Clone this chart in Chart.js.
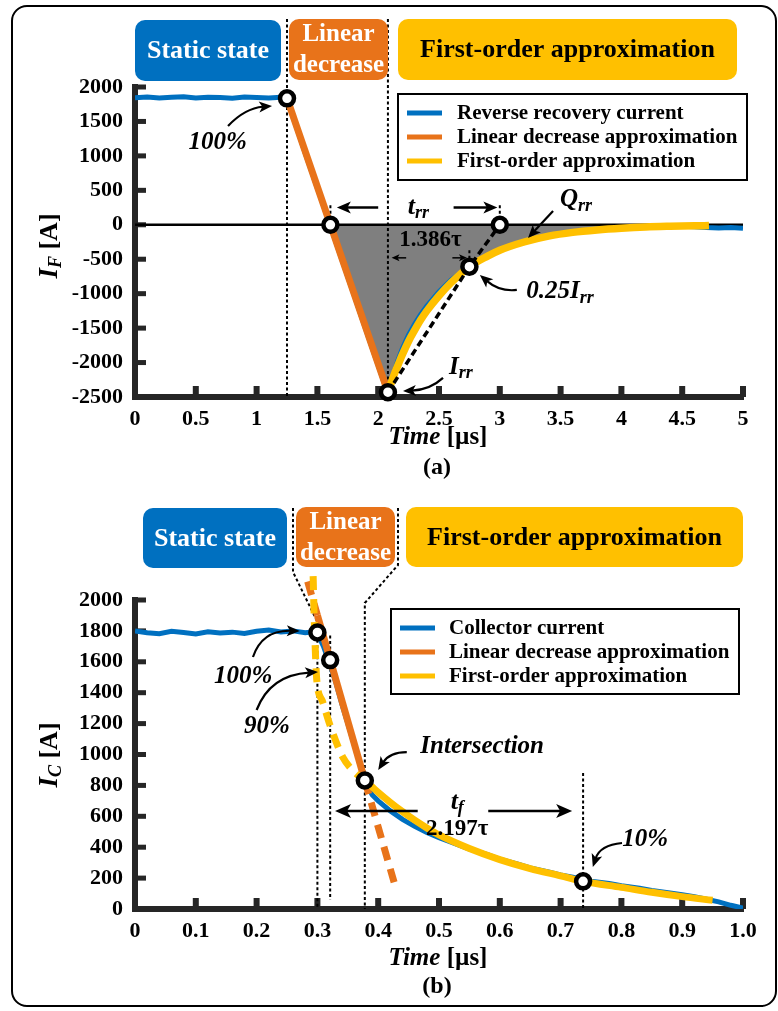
<!DOCTYPE html>
<html>
<head>
<meta charset="utf-8">
<script src="https://cdn.jsdelivr.net/npm/chart.js@4/dist/chart.umd.min.js"></script>
<style>
  html, body { margin: 0; padding: 0; background: #fff; }
  #page { position: relative; width: 778px; height: 1011px; overflow: hidden; background: #fff; }
  #frame { position: absolute; left: 11px; top: 5px; width: 766px; height: 1002px; box-sizing: border-box;
           border: 2px solid #000; border-radius: 16px; }
  canvas { position: absolute; left: 0; }
  #cA { top: 0; }
  #cB { top: 500px; }
</style>
</head>
<body>
<div id="page">
  <div id="frame"></div>
  <canvas id="cA" width="778" height="500"></canvas>
  <canvas id="cB" width="778" height="511"></canvas>
</div>
<script>
// ---------- (a) diode reverse recovery ----------
const rrTime = [0, 0.1, 0.2, 0.3, 0.4, 0.5, 0.6, 0.7, 0.8, 0.9, 1.0, 1.1, 1.2, 1.25,
  1.3, 1.4, 1.5, 1.6, 1.7, 1.8, 1.9, 2.0, 2.05, 2.08,
  2.1, 2.13, 2.16, 2.2, 2.25, 2.3, 2.35, 2.4,
  2.5, 2.6, 2.7, 2.8, 2.9, 3.0,
  3.2, 3.4, 3.6, 3.8, 4.0, 4.2, 4.4, 4.5, 4.6, 4.7, 4.8, 4.9, 5.0];
const rrCurrent = [1845, 1855, 1840, 1850, 1858, 1842, 1852, 1846, 1838, 1854, 1848, 1842, 1850, 1835,
  1560, 1040, 530, 20, -500, -1010, -1530, -2040, -2300, -2440,
  -2350, -2150, -1980, -1790, -1600, -1440, -1300, -1180,
  -970, -800, -670, -560, -450, -360,
  -245, -160, -105, -70, -45, -25, -15, -20, -30, -40, -45, -40, -50];

const linTimeA = [1.25, 2.08];
const linCurrentA = [1835, -2430];

const foTimeA = [2.08, 2.10, 2.13, 2.16, 2.20, 2.25, 2.30, 2.35, 2.40, 2.50, 2.60, 2.75, 2.90, 3.00,
  3.20, 3.40, 3.60, 3.80, 4.00, 4.20, 4.40, 4.60, 4.72];
const foCurrentA = [-2430, -2330, -2180, -2050, -1880, -1690, -1530, -1380, -1250, -1030, -840, -608, -455, -370,
  -250, -165, -110, -75, -50, -32, -22, -15, -12];

// 100 %, zero crossing, I_rr, 0.25 I_rr, end of t_rr
const markTimeA = [1.25, 1.607, 2.08, 2.75, 3.0];
const markCurrentA = [1835, 0, -2430, -608, 0];

const timeRangeA = [0, 5];
const xTicksA = ['0', '0.5', '1', '1.5', '2', '2.5', '3', '3.5', '4', '4.5', '5'];
const yTicksA = ['-2500', '-2000', '-1500', '-1000', '-500', '0', '500', '1000', '1500', '2000'];

// ---------- (b) IGBT turn-off ----------
const icTime = [0, 0.02, 0.04, 0.06, 0.08, 0.10, 0.12, 0.14, 0.16, 0.18, 0.20, 0.22, 0.24, 0.26, 0.28,
  0.29, 0.30, 0.31, 0.32, 0.33, 0.34, 0.35, 0.36, 0.37, 0.378,
  0.39, 0.40, 0.42, 0.44, 0.46, 0.48, 0.50, 0.52,
  0.55, 0.58, 0.60, 0.63, 0.65, 0.68, 0.70, 0.72, 0.75, 0.78, 0.80, 0.83, 0.85, 0.88, 0.90, 0.92, 0.94, 0.96, 0.98, 1.00];
const icCurrent = [1800, 1788, 1782, 1797, 1790, 1780, 1795, 1786, 1792, 1784, 1798, 1806, 1793, 1800, 1788,
  1792, 1780, 1700, 1590, 1470, 1330, 1200, 1070, 940, 832,
  740, 700, 635, 580, 535, 495, 462, 432,
  388, 352, 322, 290, 266, 240, 220, 206, 180, 165, 150, 134, 120, 104, 92, 80, 63, 46, 24, 6];

const linTimeB = [0.284, 0.30, 0.378, 0.43];
const linCurrentB = [2120, 1901, 832, 120];

const foTimeB = [0.293, 0.294, 0.296, 0.299, 0.308, 0.321, 0.342, 0.360, 0.378,
  0.39, 0.40, 0.42, 0.44, 0.46, 0.48, 0.50, 0.55, 0.60, 0.65, 0.70, 0.737, 0.80, 0.85, 0.90, 0.95];
const foCurrentB = [2155, 1994, 1735, 1480, 1348, 1187, 981, 890, 832,
  790, 755, 690, 630, 575, 525, 480, 392, 320, 262, 215, 179, 140, 108, 80, 56];

// 100 %, 90 %, intersection, 10 %
const markTimeB = [0.30, 0.321, 0.378, 0.737];
const markCurrentB = [1790, 1611, 832, 179];

const xTicksB = ['0', '0.1', '0.2', '0.3', '0.4', '0.5', '0.6', '0.7', '0.8', '0.9', '1.0'];
const yTicksB = ['0', '200', '400', '600', '800', '1000', '1200', '1400', '1600', '1800', '2000'];

// ---------- styling ----------
const SERIF = '"Liberation Serif", "Times New Roman", serif';
const AXIS = '#262626';
const BLUE = '#0070C0', ORANGE = '#E8731A', YELLOW = '#FFC000', GRAY = '#7F7F7F';

const pts = (xs, ys) => xs.map((x, i) => ({ x, y: ys[i] }));
const fontOf = p => `${p[2] ? 'italic ' : ''}bold ${p[1]}px ${SERIF}`;

function rich(ctx, parts, x, y) {
  let w = 0;
  for (const p of parts) { ctx.font = fontOf(p); w += ctx.measureText(p[0]).width; }
  let cx = x - w / 2;
  ctx.textAlign = 'left';
  ctx.textBaseline = 'middle';
  for (const p of parts) {
    ctx.font = fontOf(p);
    ctx.fillText(p[0], cx, y + (p[3] || 0));
    cx += ctx.measureText(p[0]).width;
  }
}

function toPx(chart, pt) {
  const X = typeof pt[0] === 'object' ? pt[0].p : chart.scales.x.getPixelForValue(pt[0]);
  const Y = typeof pt[1] === 'object' ? pt[1].p : chart.scales.y.getPixelForValue(pt[1]);
  return [X, Y];
}

function head(ctx, from, to, len, half) {
  const a = Math.atan2(to[1] - from[1], to[0] - from[0]);
  const c = Math.cos(a), s = Math.sin(a);
  ctx.beginPath();
  ctx.moveTo(to[0], to[1]);
  ctx.lineTo(to[0] - len * c + half * s, to[1] - len * s - half * c);
  ctx.lineTo(to[0] - len * 0.75 * c, to[1] - len * 0.75 * s);
  ctx.lineTo(to[0] - len * c - half * s, to[1] - len * s + half * c);
  ctx.closePath();
  ctx.fill();
}

function roundRect(ctx, x, y, w, h, r) {
  ctx.beginPath();
  ctx.moveTo(x + r, y);
  ctx.arcTo(x + w, y, x + w, y + h, r);
  ctx.arcTo(x + w, y + h, x, y + h, r);
  ctx.arcTo(x, y + h, x, y, r);
  ctx.arcTo(x, y, x + w, y, r);
  ctx.closePath();
}

function drawTicks(chart) {
  const { ctx, chartArea: a, scales: { x, y } } = chart;
  ctx.save();
  ctx.fillStyle = AXIS;
  x.ticks.forEach(t => {
    if (t.value === x.min) return;
    const px = x.getPixelForValue(t.value);
    ctx.fillRect(px - 3, a.bottom - 11, 6, 11);
  });
  y.ticks.forEach(t => {
    if (t.value === y.min) return;
    const py = y.getPixelForValue(t.value);
    ctx.fillRect(a.left, py - 2.5, 11, 5);
  });
  ctx.restore();
}

function drawGuides(chart, spec) {
  const ctx = chart.ctx;
  ctx.save();
  ctx.strokeStyle = '#000';
  ctx.lineWidth = 2;
  ctx.setLineDash([3, 2.5]);
  spec.guides.forEach(g => {
    ctx.beginPath();
    g.forEach((p, i) => { const [X, Y] = toPx(chart, p); i ? ctx.lineTo(X, Y) : ctx.moveTo(X, Y); });
    ctx.stroke();
  });
  ctx.restore();
}

function drawNotes(chart, spec) {
  const ctx = chart.ctx;
  ctx.save();
  ctx.setLineDash([]);
  ctx.strokeStyle = '#000';
  ctx.fillStyle = '#000';
  spec.arrows.forEach(a => {
    const f = toPx(chart, a.from), t = toPx(chart, a.to);
    const d = Math.hypot(t[0] - f[0], t[1] - f[1]);
    const k = (d - a.head[0] * 0.7) / d;
    ctx.lineWidth = a.w;
    ctx.beginPath();
    ctx.moveTo(f[0], f[1]);
    ctx.lineTo(f[0] + (t[0] - f[0]) * k, f[1] + (t[1] - f[1]) * k);
    ctx.stroke();
    head(ctx, f, t, a.head[0], a.head[1]);
  });
  spec.curves.forEach(c => {
    const f = toPx(chart, c.from), m = toPx(chart, c.ctrl), t = toPx(chart, c.to);
    const d = Math.hypot(t[0] - m[0], t[1] - m[1]);
    const k = 9 / d;
    ctx.lineWidth = 2.2;
    ctx.beginPath();
    ctx.moveTo(f[0], f[1]);
    ctx.quadraticCurveTo(m[0], m[1], t[0] - (t[0] - m[0]) * k, t[1] - (t[1] - m[1]) * k);
    ctx.stroke();
    head(ctx, m, t, 13, 5.5);
  });
  spec.labels.forEach(l => {
    const [X, Y] = toPx(chart, l.at);
    rich(ctx, l.parts, X, Y);
  });
  ctx.restore();
}

function drawFrameParts(chart, spec) {
  const ctx = chart.ctx;
  ctx.save();
  ctx.setLineDash([]);
  spec.banners.forEach(b => {
    ctx.fillStyle = b.fill;
    roundRect(ctx, b.x, b.y, b.w, b.h, 10);
    ctx.fill();
    ctx.fillStyle = b.color;
    const n = b.text.length;
    b.text.forEach((t, i) => rich(ctx, [[t, b.size, 0]], b.x + b.w / 2, b.y + b.h / 2 + 1 + (i - (n - 1) / 2) * 31));
  });
  const L = spec.legend;
  ctx.strokeStyle = '#000';
  ctx.lineWidth = 2;
  ctx.strokeRect(L.box[0], L.box[1], L.box[2], L.box[3]);
  L.items.forEach((di, k) => {
    const ds = chart.data.datasets[di];
    ctx.strokeStyle = ds.borderColor;
    ctx.lineWidth = 5;
    ctx.beginPath();
    ctx.moveTo(L.sample[0], L.rows[k]);
    ctx.lineTo(L.sample[1], L.rows[k]);
    ctx.stroke();
    ctx.fillStyle = '#000';
    ctx.font = `bold 21px ${SERIF}`;
    ctx.textAlign = 'left';
    ctx.textBaseline = 'middle';
    ctx.fillText(ds.label, L.textX, L.rows[k] + 1);
  });
  ctx.fillStyle = '#000';
  ctx.save();
  ctx.translate(spec.yTitle.x, spec.yTitle.y);
  ctx.rotate(-Math.PI / 2);
  rich(ctx, spec.yTitle.parts, 0, 0);
  ctx.restore();
  rich(ctx, spec.xTitle.parts, spec.xTitle.x, spec.xTitle.y);
  rich(ctx, [[spec.caption.text, 24, 0]], spec.caption.x, spec.caption.y);
  ctx.restore();
}

function makeDecor(spec) {
  return {
    id: 'decor',
    beforeDatasetsDraw(chart) {
      drawTicks(chart);
      if (spec.guidesAfter < 0) drawGuides(chart, spec);
    },
    afterDatasetDraw(chart, args) {
      if (args.index === spec.guidesAfter) drawGuides(chart, spec);
    },
    afterDatasetsDraw(chart) { drawNotes(chart, spec); },
    afterDraw(chart) { drawFrameParts(chart, spec); }
  };
}

function axes(xMin, xMax, xStep, xLabels, yMin, yMax, yStep, yLabels) {
  const tickFont = { family: SERIF, size: 22, weight: 'bold' };
  return {
    x: {
      type: 'linear', min: xMin, max: xMax,
      grid: { display: false, drawTicks: false },
      border: { display: true, width: 6, color: AXIS },
      ticks: { stepSize: xStep, autoSkip: false, maxRotation: 0, padding: 9, color: '#000', font: tickFont,
               callback: (v, i) => xLabels[i] },
      afterFit: s => { s.height = 50; }
    },
    y: {
      type: 'linear', min: yMin, max: yMax,
      grid: { display: false, drawTicks: false },
      border: { display: true, width: 6, color: AXIS },
      ticks: { stepSize: yStep, autoSkip: false, padding: 12, color: '#000', font: tickFont,
               callback: (v, i) => yLabels[i] },
      afterFit: s => { s.width = 70; }
    }
  };
}

const baseOptions = (padding, scales) => ({
  responsive: false,
  animation: false,
  devicePixelRatio: 1,
  events: [],
  layout: { padding },
  elements: { point: { radius: 0 }, line: { tension: 0 } },
  plugins: { legend: { display: false }, tooltip: { enabled: false } },
  scales
});

// ---------- chart (a) ----------
const specA = {
  guidesAfter: 0,
  banners: [
    { x: 135, y: 20, w: 146, h: 61, fill: BLUE, color: '#fff', size: 26, text: ['Static state'] },
    { x: 289, y: 19, w: 99, h: 61, fill: ORANGE, color: '#fff', size: 25, text: ['Linear', 'decrease'] },
    { x: 398, y: 19, w: 339, h: 61, fill: YELLOW, color: '#000', size: 26, text: ['First-order approximation'] }
  ],
  legend: { box: [398, 94, 349, 86], rows: [113, 137, 161], sample: [407, 442], textX: 457, items: [2, 3, 4] },
  guides: [
    [[markTimeA[0], { p: 19 }], [markTimeA[0], -2500]],
    [[markTimeA[2], { p: 19 }], [markTimeA[2], -2500]],
    [[markTimeA[1], 0], [markTimeA[1], 320]],
    [[markTimeA[4], 0], [markTimeA[4], 320]],
    [[markTimeA[3], -370], [markTimeA[3], -560]]
  ],
  arrows: [
    { from: [2.0, 250], to: [1.66, 250], w: 2.5, head: [14, 6] },
    { from: [2.62, 250], to: [2.98, 250], w: 2.5, head: [14, 6] },
    { from: [2.23, -480], to: [2.11, -480], w: 1.5, head: [8, 3.5] },
    { from: [2.61, -480], to: [2.73, -480], w: 1.5, head: [8, 3.5] },
    { from: [3.438, 200], to: [3.232, -192], w: 2.2, head: [13, 5.5] }
  ],
  curves: [
    { from: [0.765, 1434], ctrl: [0.905, 1694], to: [1.127, 1723] },
    { from: [3.14, -946], ctrl: [3.0, -975], to: [2.836, -729] },
    { from: [2.533, -2223], ctrl: [2.426, -2397], to: [2.204, -2412] }
  ],
  labels: [
    { at: [0.68, 1190], parts: [['100%', 25, 1]] },
    { at: [2.33, 250], parts: [['t', 26, 1], ['rr', 18, 1, 6]] },
    { at: [2.43, -215], parts: [['1.386τ', 23, 0]] },
    { at: [3.627, 360], parts: [['Q', 25, 1], ['rr', 18, 1, 6]] },
    { at: [3.495, -975], parts: [['0.25I', 25, 1], ['rr', 18, 1, 6]] },
    { at: [2.68, -2066], parts: [['I', 25, 1], ['rr', 18, 1, 6]] }
  ],
  yTitle: { x: 50, y: 246, parts: [['I', 27, 1], ['F', 18, 1, 6], [' [A]', 26, 0]] },
  xTitle: { x: 438, y: 438, parts: [['Time', 25, 1], [' [µs]', 25, 0]] },
  caption: { x: 437, y: 468, text: '(a)' }
};

new Chart(document.getElementById('cA'), {
  type: 'line',
  data: {
    datasets: [
      { label: 'Qrr', data: pts(rrTime, rrCurrent), borderColor: 'rgba(0,0,0,0)', borderWidth: 1,
        fill: { target: 'origin', above: 'rgba(0,0,0,0)', below: GRAY }, order: 10 },
      { label: 'zero', data: pts(timeRangeA, [0, 0]), borderColor: '#000', borderWidth: 2.5, order: 9 },
      { label: 'Reverse recovery current', data: pts(rrTime, rrCurrent), borderColor: BLUE, borderWidth: 5, order: 8 },
      { label: 'Linear decrease approximation', data: pts(linTimeA, linCurrentA), borderColor: ORANGE, borderWidth: 7, order: 7 },
      { label: 'First-order approximation', data: pts(foTimeA, foCurrentA), borderColor: YELLOW, borderWidth: 7.5,
        cubicInterpolationMode: 'monotone', order: 6 },
      { label: 'trr', data: [2, 3, 4].map(i => ({ x: markTimeA[i], y: markCurrentA[i] })),
        borderColor: '#000', borderWidth: 3.5, borderDash: [7, 4], order: 5 },
      { label: 'marks', data: pts(markTimeA, markCurrentA), showLine: false, clip: false,
        pointRadius: 7, pointBorderWidth: 4.5, pointBackgroundColor: '#fff', pointBorderColor: '#000', order: 1 }
    ]
  },
  options: baseOptions({ left: 65, right: 35, top: 87, bottom: 53 },
    axes(0, 5, 0.5, xTicksA, -2500, 2000, 500, yTicksA)),
  plugins: [makeDecor(specA)]
});

// ---------- chart (b) ----------
const specB = {
  guidesAfter: -1,
  banners: [
    { x: 143, y: 8, w: 144, h: 60, fill: BLUE, color: '#fff', size: 26, text: ['Static state'] },
    { x: 296, y: 7, w: 99, h: 60, fill: ORANGE, color: '#fff', size: 25, text: ['Linear', 'decrease'] },
    { x: 406, y: 7, w: 337, h: 60, fill: YELLOW, color: '#000', size: 26, text: ['First-order approximation'] }
  ],
  legend: { box: [391, 109, 348, 85], rows: [128, 152, 176], sample: [400, 435], textX: 449, items: [0, 1, 2] },
  guides: [
    [[{ p: 293 }, { p: 8 }], [{ p: 293 }, { p: 72 }], [markTimeB[0], { p: 122 }], [markTimeB[0], 0]],
    [[markTimeB[1], 1770], [markTimeB[1], 60]],
    [[{ p: 398 }, { p: 8 }], [{ p: 398 }, { p: 65 }], [markTimeB[2], { p: 103 }], [markTimeB[2], 0]],
    [[markTimeB[3], 880], [markTimeB[3], 0]]
  ],
  arrows: [
    { from: [0.465, 634], to: [0.329, 634], w: 2.5, head: [16, 7] },
    { from: [0.581, 634], to: [0.719, 634], w: 2.5, head: [16, 7] }
  ],
  curves: [
    { from: [0.194, 1631], ctrl: [0.209, 1806], to: [0.271, 1799] },
    { from: [0.2, 1288], ctrl: [0.222, 1515], to: [0.301, 1534] },
    { from: [0.447, 1016], ctrl: [0.419, 1016], to: [0.40, 900] },
    { from: [0.801, 427], ctrl: [0.765, 414], to: [0.753, 272] }
  ],
  labels: [
    { at: [0.178, 1502], parts: [['100%', 25, 1]] },
    { at: [0.217, 1178], parts: [['90%', 25, 1]] },
    { at: [0.571, 1049], parts: [['Intersection', 25, 1]] },
    { at: [0.53, 693], parts: [['t', 26, 1], ['f', 18, 1, 6]] },
    { at: [0.53, 518], parts: [['2.197τ', 23, 0]] },
    { at: [0.839, 447], parts: [['10%', 25, 1]] }
  ],
  yTitle: { x: 50, y: 255, parts: [['I', 27, 1], ['C', 18, 1, 6], [' [A]', 26, 0]] },
  xTitle: { x: 438, y: 459, parts: [['Time', 25, 1], [' [µs]', 25, 0]] },
  caption: { x: 437, y: 487, text: '(b)' }
};

const dashOutside = c => (c.p1.parsed.x <= markTimeB[0] + 1e-6 || c.p0.parsed.x >= markTimeB[2] - 1e-6) ? [14, 9] : undefined;
const dashBefore = c => (c.p1.parsed.x <= markTimeB[2] + 1e-6) ? [14, 9] : undefined;

new Chart(document.getElementById('cB'), {
  type: 'line',
  data: {
    datasets: [
      { label: 'Collector current', data: pts(icTime, icCurrent), borderColor: BLUE, borderWidth: 5, order: 8 },
      { label: 'Linear decrease approximation', data: pts(linTimeB, linCurrentB), borderColor: ORANGE, borderWidth: 7,
        clip: false, segment: { borderDash: dashOutside }, order: 7 },
      { label: 'First-order approximation', data: pts(foTimeB, foCurrentB), borderColor: YELLOW, borderWidth: 7,
        clip: false, cubicInterpolationMode: 'monotone', segment: { borderDash: dashBefore }, order: 6 },
      { label: 'marks', data: pts(markTimeB, markCurrentB), showLine: false, clip: false,
        pointRadius: 7, pointBorderWidth: 4.5, pointBackgroundColor: '#fff', pointBorderColor: '#000', order: 1 }
    ]
  },
  options: baseOptions({ left: 65, right: 35, top: 100, bottom: 52 },
    axes(0, 1, 0.1, xTicksB, 0, 2000, 200, yTicksB)),
  plugins: [makeDecor(specB)]
});
</script>
</body>
</html>
